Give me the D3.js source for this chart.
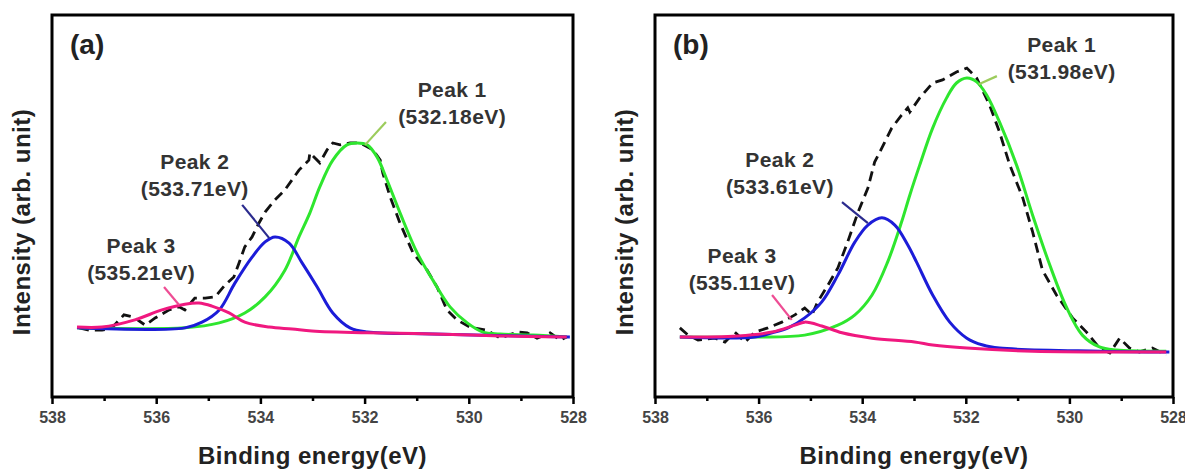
<!DOCTYPE html>
<html>
    <head>
        <meta charset="utf-8">
        <style>
            body { margin: 0; background: #fff; }
            text { font-family: "Liberation Sans", Arial, sans-serif; font-weight: bold; }
        </style>
    </head>
    <body>
        <svg width="1185" height="471"></svg>
        <script src="https://d3js.org/d3.v7.min.js"></script>
        <script>
            // binding energy axis
            let majorTicks = [538, 536, 534, 532, 530, 528];
            let minorTicks = [537, 535, 533, 531, 529];

            // panel (a): [binding energy eV, intensity a.u.]
            let aMeasured = [
                [537.48, 18.1], [537.29, 17.5], [537.04, 17.5], [536.85, 18.1], [536.62, 21.5],
                [536.43, 20.9], [536.21, 18.8], [536.02, 20.7], [535.75, 22.8], [535.56, 23.6],
                [535.45, 22.8], [535.26, 25.9], [535.06, 25.9], [534.87, 26.2], [534.68, 29.3],
                [534.51, 31.4], [534.41, 35.1], [534.30, 39.3], [534.16, 41.9], [534.03, 45.5],
                [533.91, 48.4], [533.72, 51.6], [533.53, 54.2], [533.26, 59.4], [533.07, 62.0],
                [533.05, 63.9], [532.86, 61.3], [532.72, 64.7], [532.61, 66.5], [532.47, 66.0],
                [532.28, 66.5], [532.09, 66.5], [531.84, 64.7], [531.70, 62.0], [531.65, 58.6],
                [531.51, 52.4], [531.32, 45.5], [531.07, 37.7], [530.80, 33.2], [530.61, 28.8],
                [530.42, 22.8], [530.23, 20.2], [529.98, 18.3], [529.65, 17.5], [529.40, 15.4],
                [529.07, 17.0], [528.88, 16.8], [528.69, 15.4], [528.44, 16.8], [528.25, 14.9],
                [528.12, 15.7]
            ];
            let aPeak1 = [
                [537.52, 18.1], [535.45, 18.1], [534.79, 19.4], [534.30, 22.0], [533.91, 26.2],
                [533.53, 33.2], [533.26, 41.9], [533.05, 48.2], [532.86, 55.0], [532.61, 62.0],
                [532.34, 66.0], [532.15, 66.5], [531.95, 66.0], [531.76, 62.8], [531.57, 56.8],
                [531.32, 48.2], [530.99, 37.7], [530.69, 30.6], [530.36, 23.6], [530.03, 19.4],
                [529.73, 17.0], [529.40, 16.5], [528.77, 16.2], [528.12, 15.7]
            ];
            let aPeak2 = [
                [537.52, 18.1], [535.45, 18.1], [535.12, 19.6], [534.79, 22.8], [534.49, 29.8],
                [534.16, 36.6], [533.91, 40.6], [533.72, 41.9], [533.45, 40.3], [533.20, 35.1],
                [532.91, 28.8], [532.61, 22.0], [532.28, 18.1], [531.95, 17.0], [530.69, 16.5],
                [528.06, 15.7]
            ];
            let aPeak3 = [
                [537.52, 18.3], [537.04, 18.3], [536.41, 20.2], [535.89, 22.8], [535.45, 24.3],
                [535.18, 24.6], [534.93, 23.8], [534.60, 22.0], [534.30, 19.6], [533.83, 18.3],
                [533.39, 17.8], [533.01, 17.3], [531.95, 16.8], [530.69, 16.5], [529.40, 16.0],
                [528.12, 15.7]
            ];

            // panel (b)
            let bMeasured = [
                [537.52, 18.1], [537.36, 16.2], [537.17, 14.9], [536.84, 15.4], [536.65, 14.4],
                [536.46, 17.0], [536.26, 14.4], [536.07, 17.0], [535.82, 18.1], [535.55, 19.6],
                [535.30, 21.5], [535.11, 23.3], [534.97, 21.5], [534.86, 24.9], [534.66, 29.3],
                [534.47, 33.8], [534.28, 40.6], [534.08, 48.4], [533.89, 54.7], [533.76, 61.5],
                [533.62, 65.2], [533.43, 70.4], [533.24, 73.8], [533.12, 75.7], [533.08, 74.6],
                [532.89, 78.3], [532.64, 82.2], [532.45, 83.0], [532.18, 85.1], [531.98, 86.1],
                [531.79, 83.5], [531.54, 76.4], [531.35, 69.4], [531.15, 60.7], [530.90, 52.1],
                [530.71, 43.2], [530.52, 33.2], [530.25, 26.7], [529.94, 20.7], [529.67, 17.0],
                [529.42, 12.8], [529.22, 11.5], [529.03, 15.4], [528.84, 12.8], [528.65, 11.8],
                [528.40, 12.8], [528.13, 11.0]
            ];
            let bPeak1 = [
                [537.52, 15.7], [536.07, 15.7], [535.11, 16.2], [534.47, 18.8], [534.14, 21.5],
                [533.81, 26.7], [533.51, 35.3], [533.24, 45.8], [533.08, 52.9], [532.89, 60.7],
                [532.64, 70.4], [532.37, 78.3], [532.18, 82.2], [531.98, 83.5], [531.79, 82.5],
                [531.60, 79.1], [531.35, 72.0], [531.02, 60.7], [530.71, 47.6], [530.38, 34.6],
                [530.05, 23.3], [529.75, 16.2], [529.42, 13.1], [529.09, 12.3], [528.13, 12.0]
            ];
            let bPeak2 = [
                [537.52, 15.7], [536.07, 15.7], [535.74, 16.8], [535.43, 18.1], [535.11, 20.7],
                [534.78, 24.9], [534.47, 31.9], [534.14, 40.6], [533.89, 45.0], [533.62, 46.9],
                [533.37, 45.0], [533.12, 39.8], [532.95, 35.3], [532.64, 26.7], [532.31, 19.6],
                [531.98, 15.4], [531.67, 13.6], [531.35, 12.8], [529.42, 12.0], [528.07, 11.8]
            ];
            let bPeak3 = [
                [537.52, 15.7], [536.40, 16.0], [535.74, 17.0], [535.30, 18.8], [535.11, 19.6],
                [534.78, 18.6], [534.39, 16.8], [533.81, 15.4], [532.99, 14.4], [532.64, 13.6],
                [531.98, 12.8], [530.71, 12.0], [528.13, 11.8]
            ];

            // peak labels: text lines, label anchor (eV, a.u.), leader line ends
            let aLabels = [
                {lines: ["Peak 1", "(532.18eV)"], at: [530.32, 78.5], leader: [[531.59, 72.0], [531.99, 66.0]], color: "#9ccc5c"},
                {lines: ["Peak 2", "(533.71eV)"], at: [535.26, 59.7], leader: [[534.35, 50.3], [533.83, 41.6]], color: "#2b2b8e"},
                {lines: ["Peak 3", "(535.21eV)"], at: [536.29, 37.7], leader: [[535.85, 28.8], [535.56, 24.1]], color: "#ee4d94"}
            ];
            let bLabels = [
                {lines: ["Peak 1", "(531.98eV)"], at: [530.15, 90.3], leader: [[531.40, 84.0], [531.75, 81.9]], color: "#9ccc5c"},
                {lines: ["Peak 2", "(533.61eV)"], at: [535.59, 60.2], leader: [[534.39, 51.0], [533.89, 45.5]], color: "#2b2b8e"},
                {lines: ["Peak 3", "(535.11eV)"], at: [536.32, 35.1], leader: [[535.74, 26.7], [535.36, 20.2]], color: "#ee4d94"}
            ];

            let svg = d3.select("svg");
            let plotTop = 15, plotBottom = 397;

            function drawPanel(id, tag, left, right, measured, p1, p2, p3, labels) {
                let x = d3.scaleLinear().domain([538, 528]).range([left, right]);
                let y = d3.scaleLinear().domain([0, 100]).range([plotBottom, plotTop]);
                let g = svg.append("g");

                g.append("clipPath").attr("id", "clip" + id)
                    .append("rect")
                    .attr("x", left).attr("y", plotTop)
                    .attr("width", right - left).attr("height", plotBottom - plotTop);

                let plot = g.append("g").attr("clip-path", "url(#clip" + id + ")");
                let smooth = d3.line().x(d => x(d[0])).y(d => y(d[1])).curve(d3.curveCatmullRom.alpha(0.5));
                let raw = d3.line().x(d => x(d[0])).y(d => y(d[1]));

                plot.append("path").datum(measured)
                    .attr("d", raw).attr("fill", "none")
                    .attr("stroke", "#111").attr("stroke-width", 2.8)
                    .attr("stroke-dasharray", "10,6");
                plot.append("path").datum(p1)
                    .attr("d", smooth).attr("fill", "none")
                    .attr("stroke", "#2ee62e").attr("stroke-width", 3);
                plot.append("path").datum(p2)
                    .attr("d", smooth).attr("fill", "none")
                    .attr("stroke", "#1c1cd8").attr("stroke-width", 3);
                plot.append("path").datum(p3)
                    .attr("d", smooth).attr("fill", "none")
                    .attr("stroke", "#f0187f").attr("stroke-width", 3);

                // labels and leader lines
                labels.forEach(function(l) {
                    g.append("line")
                        .attr("x1", x(l.leader[0][0])).attr("y1", y(l.leader[0][1]))
                        .attr("x2", x(l.leader[1][0])).attr("y2", y(l.leader[1][1]))
                        .attr("stroke", l.color).attr("stroke-width", 2.2);
                    let t = g.append("text")
                        .attr("x", x(l.at[0])).attr("y", y(l.at[1]))
                        .attr("text-anchor", "middle")
                        .attr("font-size", 21).attr("fill", "#333")
                        .attr("letter-spacing", 0.4);
                    l.lines.forEach(function(s, i) {
                        t.append("tspan").attr("x", x(l.at[0])).attr("dy", i ? "1.27em" : 0).text(s);
                    });
                });

                // axis
                let axis = g.append("g").attr("transform", "translate(0," + plotBottom + ")")
                    .call(d3.axisBottom(x).tickValues(majorTicks).tickSize(7).tickSizeOuter(0).tickPadding(8));
                axis.select(".domain").remove();
                axis.selectAll("line").attr("stroke", "#000").attr("stroke-width", 2.5);
                axis.selectAll("text").attr("font-size", 16).attr("fill", "#444")
                    .style("font-family", "'Liberation Sans', Arial, sans-serif").style("font-weight", "bold");
                let minor = g.append("g").attr("transform", "translate(0," + plotBottom + ")")
                    .call(d3.axisBottom(x).tickValues(minorTicks).tickSize(4).tickFormat(""));
                minor.select(".domain").remove();
                minor.selectAll("line").attr("stroke", "#000").attr("stroke-width", 2.5);

                // frame
                g.append("rect")
                    .attr("x", left).attr("y", plotTop)
                    .attr("width", right - left).attr("height", plotBottom - plotTop)
                    .attr("fill", "none").attr("stroke", "#000").attr("stroke-width", 3);

                g.append("text").attr("x", left + 18).attr("y", 54)
                    .attr("font-size", 28).attr("fill", "#222").text(tag);

                g.append("text")
                    .attr("x", (left + right) / 2).attr("y", 464)
                    .attr("text-anchor", "middle").attr("font-size", 24)
                    .attr("fill", "#222").attr("letter-spacing", 0.5)
                    .text("Binding energy(eV)");
                g.append("text")
                    .attr("transform", "translate(" + (left - 22) + "," + ((plotTop + plotBottom) / 2 + 16) + ") rotate(-90)")
                    .attr("text-anchor", "middle").attr("font-size", 24)
                    .attr("fill", "#222").attr("letter-spacing", 0.5)
                    .text("Intensity (arb. unit)");
            }

            drawPanel("a", "(a)", 52, 573, aMeasured, aPeak1, aPeak2, aPeak3, aLabels);
            drawPanel("b", "(b)", 655, 1173, bMeasured, bPeak1, bPeak2, bPeak3, bLabels);
        </script>
    </body>
</html>
